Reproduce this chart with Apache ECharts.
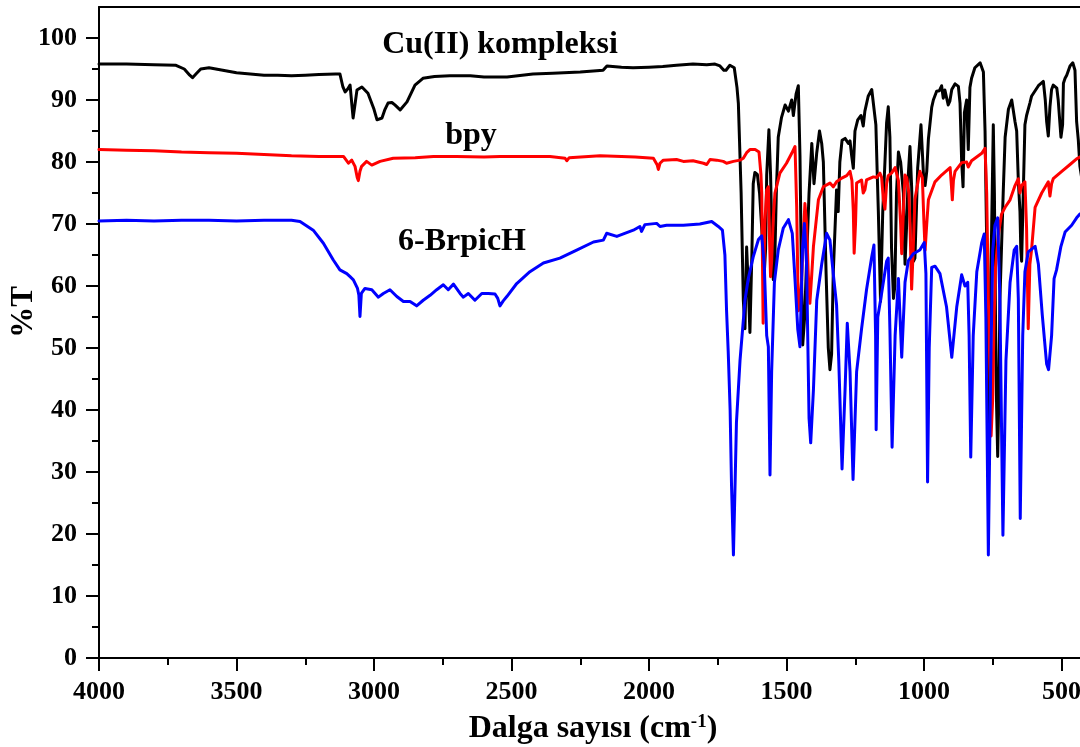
<!DOCTYPE html>
<html>
<head>
<meta charset="utf-8">
<script src="https://cdn.jsdelivr.net/npm/echarts@6/dist/echarts.min.js"></script>
<style>
  html, body { margin: 0; padding: 0; background: #ffffff; }
  #chart { width: 1080px; height: 747px; }
</style>
</head>
<body>
<div id="chart"></div>
<script>
// IR spectra: wavenumber (cm-1) and transmittance (%T)

// Cu(II) kompleksi
const cuWave = [4000,3900,3800,3720,3690,3670,3660,3645,3630,3600,3550,3500,3450,3400,3350,3300,3250,3200,3140,3124,3113,3105,3095,3087,3080,3076,3070,3062,3044,3022,3000,2989,2971,2960,2949,2935,2924,2905,2880,2851,2822,2780,2724,2650,2600,2516,2422,2350,2250,2167,2153,2100,2058,2000,1950,1900,1840,1790,1760,1742,1728,1720,1706,1690,1680,1675,1665,1657,1651,1645,1639,1633,1626,1621,1615,1606,1598,1590,1581,1576,1572,1564,1558,1554,1548,1544,1537,1530,1518,1505,1493,1481,1475,1465,1457,1451,1446,1441,1434,1427,1418,1408,1400,1390,1380,1372,1366,1356,1348,1342,1336,1330,1318,1312,1306,1298,1287,1275,1269,1263,1257,1251,1241,1229,1221,1215,1203,1190,1184,1175,1170,1166,1158,1150,1142,1136,1130,1124,1118,1111,1106,1100,1093,1085,1075,1069,1063,1057,1051,1045,1038,1033,1023,1011,1002,996,990,984,972,966,954,944,936,930,924,912,906,899,887,875,869,863,858,853,845,839,833,827,815,796,784,778,772,768,766,762,757,754,748,744,740,736,732,728,724,712,705,693,681,675,669,663,657,651,648,645,639,633,627,615,609,584,566,559,554,548,542,536,530,524,517,512,502,496,493,487,481,469,459,451,445,439,433,425];
const cuT = [95.8,95.8,95.7,95.6,95.0,94.0,93.6,94.3,95.0,95.2,94.8,94.4,94.2,94.0,94.0,93.9,94.0,94.1,94.2,94.2,92.1,91.3,91.8,92.4,89.0,87.1,89.0,91.6,92.1,91.1,88.5,86.8,87.1,88.5,89.5,89.6,89.2,88.4,89.7,92.4,93.5,93.8,93.9,93.9,93.7,93.7,94.2,94.3,94.5,94.8,95.5,95.3,95.2,95.3,95.4,95.6,95.8,95.7,95.8,95.5,94.8,94.8,95.6,95.2,92.0,89.4,75.0,57.7,53.1,66.3,60.0,52.5,65.0,76.5,78.3,78.0,75.0,69.3,62.0,66.0,77.9,85.2,78.0,70.0,61.0,61.5,75.0,84.0,87.2,89.2,88.2,90.0,87.5,91.0,92.3,81.0,63.0,50.5,55.0,64.0,75.0,83.0,76.5,81.5,85.0,83.0,80.0,62.0,50.0,46.5,49.0,62.0,75.5,72.0,80.0,83.5,83.8,83.0,83.4,81.0,79.0,85.0,86.8,87.5,85.8,88.2,90.6,91.7,92.0,86.0,78.0,72.0,57.5,72.0,80.0,86.3,88.9,84.0,66.0,58.0,60.0,75.0,81.6,80.0,75.0,63.5,70.0,78.0,82.5,76.0,64.0,64.5,79.0,86.0,78.0,76.2,78.5,83.7,88.8,90.0,91.4,91.5,92.3,90.3,91.6,89.2,89.8,91.7,92.6,92.2,89.5,80.0,76.0,88.0,90.0,82.0,92.0,93.5,95.2,96.0,94.5,85.0,67.0,45.0,34.7,45.0,62.0,69.3,86.0,75.0,55.0,40.5,32.5,42.0,57.7,75.0,84.0,88.5,90.0,90.0,86.5,85.0,77.0,72.0,66.0,64.0,75.0,86.0,87.5,89.5,90.6,92.3,93.0,90.0,86.5,84.2,88.9,91.7,92.4,92.3,91.9,90.0,84.0,86.0,92.7,93.5,94.0,95.5,96.0,94.8,86.5,83.6,79.3,77.0];

// bpy
const bpyWave = [4000,3900,3800,3700,3600,3500,3400,3300,3200,3111,3093,3081,3069,3061,3057,3051,3045,3027,3008,2978,2930,2850,2784,2700,2600,2542,2450,2360,2305,2299,2290,2178,2100,2050,1984,1970,1966,1960,1948,1900,1875,1840,1802,1790,1778,1754,1730,1718,1693,1669,1657,1645,1633,1614,1600,1593,1590,1585,1579,1572,1566,1562,1558,1554,1548,1542,1524,1500,1481,1469,1463,1457,1451,1445,1439,1433,1427,1421,1415,1408,1402,1384,1366,1342,1330,1318,1299,1281,1269,1262,1257,1254,1249,1245,1227,1221,1215,1209,1184,1172,1160,1154,1148,1142,1136,1130,1118,1105,1093,1085,1081,1075,1069,1063,1055,1051,1045,1040,1033,1015,1006,1000,996,990,984,960,936,905,900,897,893,887,863,845,839,827,790,778,772,766,760,756,750,745,740,730,718,705,687,669,657,651,645,633,627,621,615,609,596,572,548,542,536,530,499,469,445,433,425];
const bpyT = [82.0,81.9,81.8,81.6,81.5,81.4,81.2,81.0,80.9,80.9,79.8,80.3,79.3,77.5,77.0,78.5,79.3,80.1,79.5,80.1,80.6,80.7,80.9,80.9,80.8,80.9,80.9,80.9,80.6,80.2,80.7,81.0,80.9,80.8,80.6,79.5,78.8,79.8,80.3,80.4,80.1,80.2,79.8,79.6,80.4,80.3,80.1,79.8,80.1,80.3,80.6,81.5,82.0,82.0,81.6,78.0,75.0,54.0,70.0,75.5,76.0,68.0,61.5,64.0,71.0,75.0,78.2,79.8,81.4,82.5,72.8,56.0,57.0,61.0,68.0,73.3,70.1,62.0,57.2,62.0,66.4,73.9,76.0,76.6,76.0,76.8,77.4,77.8,78.5,77.0,72.0,65.3,70.0,76.6,77.1,75.0,75.5,77.1,77.6,77.5,78.2,77.5,74.0,72.4,76.5,77.8,78.2,79.1,77.0,70.0,65.2,72.0,77.9,77.5,75.0,70.0,59.5,65.0,74.0,78.5,77.5,70.0,65.8,70.0,73.9,76.8,77.9,79.1,76.0,73.9,77.0,78.5,79.9,80.0,79.2,80.2,81.4,82.2,75.0,57.7,46.2,35.8,42.0,55.0,63.0,68.1,71.6,72.7,73.9,76.2,77.3,75.0,76.2,76.8,69.3,53.1,63.5,65.8,72.7,75.0,76.8,74.5,76.5,77.3,78.5,79.6,80.5,80.8,81.0];

// 6-BrpicH
const brWave = [4000,3900,3800,3700,3600,3500,3400,3300,3269,3221,3184,3148,3124,3099,3087,3075,3060,3055,3051,3046,3033,3008,2984,2966,2942,2917,2893,2869,2845,2821,2796,2772,2748,2730,2711,2687,2675,2657,2633,2608,2584,2560,2550,2542,2530,2517,2481,2433,2384,2324,2263,2202,2166,2154,2117,2057,2033,2027,2015,1972,1960,1936,1875,1815,1772,1748,1733,1724,1718,1712,1705,1700,1693,1687,1682,1669,1651,1639,1621,1602,1590,1581,1572,1566,1560,1554,1544,1530,1512,1493,1479,1469,1459,1451,1442,1435,1427,1418,1412,1402,1390,1372,1354,1342,1330,1318,1310,1298,1287,1279,1269,1258,1245,1227,1209,1190,1182,1176,1174,1168,1158,1150,1136,1130,1124,1116,1105,1093,1087,1081,1069,1057,1039,1015,999,993,987,981,972,960,942,918,899,881,863,857,851,841,836,830,821,808,790,781,775,766,758,750,742,732,724,713,702,687,672,663,657,650,641,633,621,596,584,570,554,547,536,527,518,502,487,463,445,433,425];
const brT = [70.5,70.6,70.5,70.6,70.6,70.5,70.6,70.6,70.4,69.0,66.9,64.2,62.6,62.0,61.5,61.0,59.6,58.5,55.1,58.8,59.6,59.4,58.2,58.8,59.4,58.3,57.5,57.5,56.8,57.7,58.5,59.4,60.2,59.4,60.3,58.8,58.2,58.8,57.7,58.8,58.8,58.7,58.0,56.8,57.6,58.3,60.4,62.3,63.7,64.5,65.8,67.1,67.4,68.5,68.0,69.0,69.6,68.8,69.9,70.1,69.6,69.8,69.8,70.0,70.4,69.6,69.0,65.0,56.1,49.5,40.0,28.0,16.6,28.0,38.0,48.0,57.7,61.2,64.7,67.5,68.1,63.5,52.0,50.2,29.5,46.2,60.6,65.8,69.3,70.7,68.5,61.0,53.0,50.2,65.8,70.1,63.5,38.7,34.7,43.3,57.7,63.5,68.5,67.4,62.0,57.0,48.0,30.5,43.3,54.0,46.2,28.8,46.2,53.1,59.4,64.7,66.6,52.0,36.8,55.0,57.7,60.0,64.0,64.5,53.1,34.0,52.0,61.2,61.0,48.5,60.6,64.1,65.2,65.8,67.0,62.0,28.4,50.0,63.0,63.2,62.0,56.6,48.5,56.6,61.8,62.1,60.0,60.6,52.0,32.4,52.0,62.3,67.0,68.4,55.0,16.6,45.0,65.8,69.8,71.0,57.7,19.8,48.0,60.6,65.8,66.4,58.0,22.5,52.0,62.3,65.5,66.4,63.5,55.4,47.4,46.5,52.0,61.2,62.6,66.4,68.7,69.8,71.0,71.6,71.8];

// axis ticks
const xMajorStep = 500;
const yMajor = [0, 10, 20, 30, 40, 50, 60, 70, 80, 90, 100];
const yMinor = [5, 15, 25, 35, 45, 55, 65, 75, 85, 95];

const FONT = 'Liberation Serif';

function pairs(w, t) {
  return w.map(function (v, i) { return [v, t[i]]; });
}

function spectrum(name, w, t, color) {
  return {
    name: name,
    type: 'line',
    data: pairs(w, t),
    showSymbol: false,
    symbol: 'none',
    xAxisIndex: 0,
    yAxisIndex: 0,
    lineStyle: { color: color, width: 3, join: 'round', cap: 'round' },
    z: 3
  };
}

const labelStyle = {
  fontFamily: FONT, fontWeight: 'bold', fontSize: 26, color: '#000'
};
const axisLineStyle = { color: '#000', width: 2 };
const plotRect = { left: 99, top: 7, bottom: 89, right: -119, containLabel: false, outerBoundsMode: 'none' };

const chart = echarts.init(document.getElementById('chart'), null, { renderer: 'canvas' });

chart.setOption({
  animation: false,
  backgroundColor: '#ffffff',
  grid: [
    Object.assign({}, plotRect),
    Object.assign({}, plotRect)
  ],
  xAxis: [
    {
      gridIndex: 0, type: 'value', position: 'bottom', inverse: true,
      min: 0, max: 4000, interval: xMajorStep,
      axisLine: { show: true, onZero: false, lineStyle: axisLineStyle },
      axisTick: { show: true, inside: false, length: 13, lineStyle: axisLineStyle },
      minorTick: { show: true, splitNumber: 2, length: 7, lineStyle: axisLineStyle },
      axisLabel: Object.assign({
        margin: 21,
        formatter: function (v) { return v === 0 ? '' : String(v); }
      }, labelStyle),
      splitLine: { show: false },
      minorSplitLine: { show: false }
    },
    {
      gridIndex: 0, type: 'value', position: 'top', inverse: true,
      min: 0, max: 4000,
      axisLine: { show: true, onZero: false, lineStyle: axisLineStyle },
      axisTick: { show: false },
      axisLabel: { show: false },
      splitLine: { show: false }
    },
    {
      gridIndex: 1, type: 'value', show: false, min: 0, max: 4000
    }
  ],
  yAxis: [
    {
      gridIndex: 0, type: 'value', position: 'left', min: 0, max: 105, interval: 10,
      axisLine: { show: true, onZero: false, lineStyle: axisLineStyle },
      axisTick: { show: true, inside: false, length: 13, lineStyle: axisLineStyle, customValues: yMajor },
      axisLabel: Object.assign({
        margin: 22, customValues: yMajor,
        formatter: function (v) { return String(v); }
      }, labelStyle),
      splitLine: { show: false }
    },
    {
      gridIndex: 1, type: 'value', position: 'left', min: 0, max: 105, interval: 10,
      axisLine: { show: false },
      axisTick: { show: true, inside: false, length: 7, lineStyle: axisLineStyle, customValues: yMinor },
      axisLabel: { show: false },
      splitLine: { show: false }
    }
  ],
  series: [
    spectrum('Cu(II) kompleksi', cuWave, cuT, '#000000'),
    spectrum('bpy', bpyWave, bpyT, '#ff0000'),
    spectrum('6-BrpicH', brWave, brT, '#0000ff')
  ],
  graphic: [
    {
      type: 'text', x: 500, y: 45, z: 10,
      style: { text: 'Cu(II) kompleksi', textAlign: 'center', textVerticalAlign: 'middle',
               fontFamily: FONT, fontWeight: 'bold', fontSize: 32, fill: '#000' }
    },
    {
      type: 'text', x: 471, y: 136, z: 10,
      style: { text: 'bpy', textAlign: 'center', textVerticalAlign: 'middle',
               fontFamily: FONT, fontWeight: 'bold', fontSize: 32, fill: '#000' }
    },
    {
      type: 'text', x: 462, y: 242, z: 10,
      style: { text: '6-BrpicH', textAlign: 'center', textVerticalAlign: 'middle',
               fontFamily: FONT, fontWeight: 'bold', fontSize: 32, fill: '#000' }
    },
    {
      type: 'text', x: 593, y: 729, z: 10,
      style: {
        text: 'Dalga sayısı (cm{sup|-1})', textAlign: 'center', textVerticalAlign: 'middle',
        fontFamily: FONT, fontWeight: 'bold', fontSize: 32, fill: '#000',
        rich: { sup: { fontFamily: FONT, fontWeight: 'bold', fontSize: 19, verticalAlign: 'top', fill: '#000' } }
      }
    },
    {
      type: 'text', x: 24, y: 312, rotation: Math.PI / 2, z: 10,
      style: { text: '%T', textAlign: 'center', textVerticalAlign: 'middle',
               fontFamily: FONT, fontWeight: 'bold', fontSize: 31, fill: '#000' }
    }
  ]
});
</script>
</body>
</html>
